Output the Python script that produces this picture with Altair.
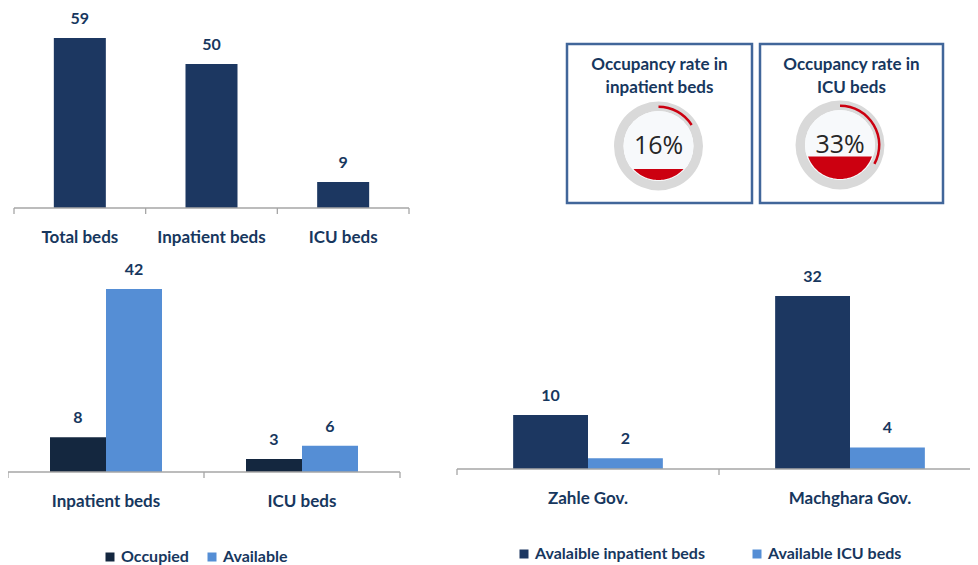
import math
import altair as alt
import pandas as pd

# ---------------- data ----------------
top_categories = ["Total beds", "Inpatient beds", "ICU beds"]
top_values = [59, 50, 9]

occ_categories = ["Inpatient beds", "ICU beds"]
occ_series = ["Occupied", "Available"]
occupied_values = [8, 3]
available_values = [42, 6]

gov_categories = ["Zahle Gov.", "Machghara Gov."]
gov_series = ["Avalaible inpatient beds", "Available ICU beds"]
gov_inpatient_values = [10, 32]
gov_icu_values = [2, 4]

gauge_title_lines = [["Occupancy rate in", "inpatient beds"],
                     ["Occupancy rate in", "ICU beds"]]
gauge_rates = [0.16, 0.33]

# ---------------- style ----------------
FONT = "Lato"
TEXT = "#17375E"
NAVY = "#1C3761"
DARK = "#14273F"
LIGHT = "#558ED5"
AXIS = "#A6A6A6"
RED = "#CC0010"
RING = "#D9D9D9"
FACE = "#F7F9FB"
BOX = "#41669A"
TAU = 2 * math.pi
W, H = 962, 557


def category_axis(cats, scale, y, x0, x1):
    one = alt.Chart(pd.DataFrame({"category": cats}))
    line = alt.Chart(pd.DataFrame({"k": [0]})).mark_rule(color=AXIS, strokeWidth=1.3).encode(
        x=alt.value(x0), x2=alt.value(x1), y=alt.value(y))
    ticks = one.mark_rule(color=AXIS, strokeWidth=1.3).encode(
        x=alt.X("category:N", scale=scale, axis=None, bandPosition=0),
        y=alt.value(y), y2=alt.value(y + 6))
    end = one.transform_filter(alt.datum.category == cats[-1]).mark_rule(
        color=AXIS, strokeWidth=1.3).encode(
        x=alt.X("category:N", scale=scale, axis=None, bandPosition=1),
        y=alt.value(y), y2=alt.value(y + 6))
    labels = one.mark_text(font=FONT, fontSize=17, fontWeight="bold", color=TEXT).encode(
        x=alt.X("category:N", scale=scale, axis=None), y=alt.value(y + 30), text="category:N")
    return [line, ticks, end, labels]


# ---------------- top-left: totals ----------------
df_top = pd.DataFrame({"category": top_categories, "value": top_values})
xs_top = alt.Scale(domain=top_categories, range=[6, 401], paddingInner=0, paddingOuter=0)
ys_top = alt.Scale(domain=[0, 59], range=[200, 30], nice=False, zero=True)
ct = alt.Chart(df_top)
top_bars = ct.mark_bar(color=NAVY, width=alt.RelativeBandSize(0.395)).encode(
    x=alt.X("category:N", scale=xs_top, axis=None),
    y=alt.Y("value:Q", scale=ys_top, axis=None))
top_vals = ct.mark_text(font=FONT, fontSize=16, fontWeight="bold", color=TEXT, dy=-19).encode(
    x=alt.X("category:N", scale=xs_top, axis=None),
    y=alt.Y("value:Q", scale=ys_top, axis=None),
    text="value:Q")
top_layer = alt.layer(top_bars, top_vals, *category_axis(top_categories, xs_top, 200, 6, 401))


# ---------------- grouped charts ----------------
def grouped(cats, series, first, second, colors, xrange, ymax, yrange, axis_y,
            legend_x, legend_y, col_pad):
    df = pd.DataFrame({
        "category": cats * 2,
        "series": [series[0]] * len(cats) + [series[1]] * len(cats),
        "value": first + second,
    })
    xs = alt.Scale(domain=cats, range=xrange, paddingInner=0, paddingOuter=0)
    ys = alt.Scale(domain=[0, ymax], range=yrange, nice=False, zero=True)
    xo = alt.XOffset("series:N", scale=alt.Scale(domain=series, paddingInner=0, paddingOuter=0.75))
    c = alt.Chart(df)
    bars = c.mark_bar().encode(
        x=alt.X("category:N", scale=xs, axis=None),
        xOffset=xo,
        y=alt.Y("value:Q", scale=ys, axis=None),
        color=alt.Color("series:N", scale=alt.Scale(domain=series, range=colors),
                        legend=alt.Legend(title=None, orient="none", legendX=legend_x,
                                          legendY=legend_y, direction="horizontal",
                                          symbolType="square", symbolSize=81,
                                          symbolStrokeWidth=0, labelFont=FONT,
                                          labelFontSize=16, labelFontWeight="bold",
                                          labelColor=TEXT, labelOffset=3, labelLimit=400,
                                          columnPadding=col_pad, padding=0)))
    vals = c.mark_text(font=FONT, fontSize=16, fontWeight="bold", color=TEXT, dy=-19).encode(
        x=alt.X("category:N", scale=xs, axis=None),
        xOffset=xo,
        y=alt.Y("value:Q", scale=ys, axis=None),
        text="value:Q")
    return alt.layer(bars, vals, *category_axis(cats, xs, axis_y, xrange[0], xrange[1]))


bl_layer = grouped(occ_categories, occ_series, occupied_values, available_values,
                   [DARK, LIGHT], [0, 392], 42, [464, 281], 464, 94, 541, 15)
br_layer = grouped(gov_categories, gov_series, gov_inpatient_values, gov_icu_values,
                   [NAVY, LIGHT], [449, 973], 32, [461, 288], 461, 508, 538, 44)


# ---------------- gauges ----------------
def gauge(idx, cx, cy, box):
    rate = gauge_rates[idx]
    df = pd.DataFrame({"rate": [rate], "start": [0.0],
                       "title": ["\n".join(gauge_title_lines[idx])]})
    g = alt.Chart(df)
    x0, y0, x1, y1 = box
    frame = g.mark_rect(fillOpacity=0, stroke=BOX, strokeWidth=2.5).encode(
        x=alt.value(x0), x2=alt.value(x1), y=alt.value(y0), y2=alt.value(y1))
    title = g.mark_text(font=FONT, fontSize=17, fontWeight="bold", color=TEXT,
                        lineBreak="\n", lineHeight=23).encode(
        x=alt.value((x0 + x1) / 2), y=alt.value(y0 + 21), text="title:N")
    ring = g.mark_arc(color=RING, outerRadius=44.5, innerRadius=35, theta=0, theta2=TAU).encode(
        x=alt.value(cx), y=alt.value(cy))
    face = g.mark_arc(color=FACE, outerRadius=35, innerRadius=0, theta=0, theta2=TAU).encode(
        x=alt.value(cx), y=alt.value(cy))
    progress = g.mark_arc(color=RED, outerRadius=40.5, innerRadius=38).encode(
        x=alt.value(cx), y=alt.value(cy),
        theta=alt.Theta("rate:Q", stack=None, scale=alt.Scale(domain=[0, 1], range=[0, TAU])),
        theta2="start:Q")
    R = 34
    fill = alt.Chart(alt.sequence(0, 1.0001, 0.02, as_="t")).transform_calculate(
        p=str(rate),
        h="-1 + 2 * datum.p",
        w="sqrt(1 - datum.h * datum.h)",
        x="-datum.w + 2 * datum.w * datum.t",
        ylo="-sqrt(max(0, 1 - datum.x * datum.x))",
        yhi="datum.h",
    ).mark_area(color=RED).encode(
        x=alt.X("x:Q", scale=alt.Scale(domain=[-1, 1], range=[cx - R, cx + R]), axis=None),
        y=alt.Y("ylo:Q", scale=alt.Scale(domain=[-1, 1], range=[cy + R, cy - R]), axis=None),
        y2="yhi:Q")
    pct = g.mark_text(font="Open Sans", fontSize=25, color="#262626").encode(
        x=alt.value(cx), y=alt.value(cy), text=alt.Text("rate:Q", format=".0%"))
    return alt.layer(frame, title, ring, face, fill, progress, pct)


g1 = gauge(0, 650.5, 138, (559, 36, 744, 195))
g2 = gauge(1, 832, 137, (752, 36, 935, 195))

chart = alt.layer(top_layer, bl_layer, br_layer, g1, g2).resolve_scale(
    x="independent", y="independent", color="independent",
    xOffset="independent", theta="independent"
).properties(
    width=W, height=H, autosize=alt.AutoSizeParams(type="none"), padding=0
).configure_view(strokeWidth=0)

chart.save("out.html", embed_options={"renderer": "svg", "actions": False})
